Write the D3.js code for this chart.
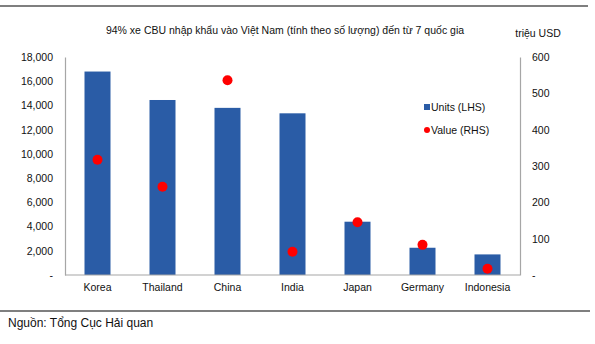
<!DOCTYPE html>
<html>
<head>
<meta charset="utf-8">
<script src="https://cdn.jsdelivr.net/npm/d3@7"></script>
<style>
  html, body { margin: 0; padding: 0; background: #fff; }
  svg { display: block; font-family: "Liberation Sans", Arial, sans-serif; }
</style>
</head>
<body>
<svg id="chart" width="595" height="344"></svg>
<script>
// CBU car imports into Vietnam by country of origin
const categories = ["Korea", "Thailand", "China", "India", "Japan", "Germany", "Indonesia"];
const units = [16800, 14450, 13800, 13350, 4400, 2250, 1700];     // units, left axis
const values = [317, 243, 536, 64, 145, 83, 17];                  // million USD, right axis
const leftTicks = [0, 2000, 4000, 6000, 8000, 10000, 12000, 14000, 16000, 18000];
const rightTicks = [0, 100, 200, 300, 400, 500, 600];

const title = "94% xe CBU nhập khẩu vào Việt Nam (tính theo số lượng) đến từ 7 quốc gia";
const rightUnit = "triệu USD";
const source = "Nguồn: Tổng Cục Hải quan";

const svg = d3.select("#chart");
const plot = { left: 65, right: 520, top: 57, bottom: 275 };

const x = d3.scaleBand().domain(categories).range([plot.left, plot.right]).paddingInner(0.6).paddingOuter(0.3);
const yL = d3.scaleLinear().domain([0, 18000]).range([plot.bottom, plot.top]);
const yR = d3.scaleLinear().domain([0, 600]).range([plot.bottom, plot.top]);

const barColor = "#2a5ca6";
const dotColor = "#ff0000";
const axisColor = "#a6a6a6";

// frame rules
svg.append("line").attr("x1", 0).attr("x2", 588).attr("y1", 6).attr("y2", 6)
  .attr("stroke", "#000").attr("stroke-width", 1.2);
svg.append("line").attr("x1", 0).attr("x2", 590).attr("y1", 311).attr("y2", 311)
  .attr("stroke", "#000").attr("stroke-width", 1.2);

// title
svg.append("text").attr("x", 285).attr("y", 34).attr("text-anchor", "middle")
  .attr("font-size", 10.5).attr("fill", "#111").text(title);
svg.append("text").attr("x", 538).attr("y", 37).attr("text-anchor", "middle")
  .attr("font-size", 10.5).attr("fill", "#111").text(rightUnit);

// bars
svg.append("g").selectAll("rect").data(categories).join("rect")
  .attr("x", d => x(d))
  .attr("width", x.bandwidth())
  .attr("y", (d, i) => yL(units[i]))
  .attr("height", (d, i) => plot.bottom - yL(units[i]))
  .attr("fill", barColor);

// axes
const fmtL = d => d === 0 ? "-" : d3.format(",")(d);
const fmtR = d => d === 0 ? "-" : String(d);

const gL = svg.append("g").attr("transform", `translate(${plot.left},0)`)
  .call(d3.axisLeft(yL).tickValues(leftTicks).tickFormat(fmtL).tickSize(0).tickPadding(12));
const gR = svg.append("g").attr("transform", `translate(${plot.right},0)`)
  .call(d3.axisRight(yR).tickValues(rightTicks).tickFormat(fmtR).tickSize(0).tickPadding(12));
const gB = svg.append("g").attr("transform", `translate(0,${plot.bottom})`)
  .call(d3.axisBottom(x).tickSize(0).tickPadding(9));

[gL, gR, gB].forEach(g => {
  g.select(".domain").attr("stroke", axisColor).attr("stroke-width", 1.2);
  g.selectAll("text").attr("font-size", 10.5).attr("fill", "#111")
    .attr("font-family", "Liberation Sans, Arial, sans-serif");
});
gB.select(".domain").attr("d", `M${plot.left},0H${plot.right}`);

// value dots
svg.append("g").selectAll("circle").data(categories).join("circle")
  .attr("cx", d => x(d) + x.bandwidth() / 2)
  .attr("cy", (d, i) => yR(values[i]))
  .attr("r", 5)
  .attr("fill", dotColor);

// legend
const lg = svg.append("g").attr("font-size", 10.5).attr("fill", "#111");
lg.append("rect").attr("x", 424).attr("y", 104).attr("width", 6).attr("height", 6).attr("fill", barColor);
lg.append("text").attr("x", 431).attr("y", 111).text("Units (LHS)");
lg.append("circle").attr("cx", 427).attr("cy", 130).attr("r", 3).attr("fill", dotColor);
lg.append("text").attr("x", 431).attr("y", 134).text("Value (RHS)");

// source note
svg.append("text").attr("x", 8).attr("y", 327).attr("font-size", 12).attr("fill", "#111").text(source);
</script>
</body>
</html>
